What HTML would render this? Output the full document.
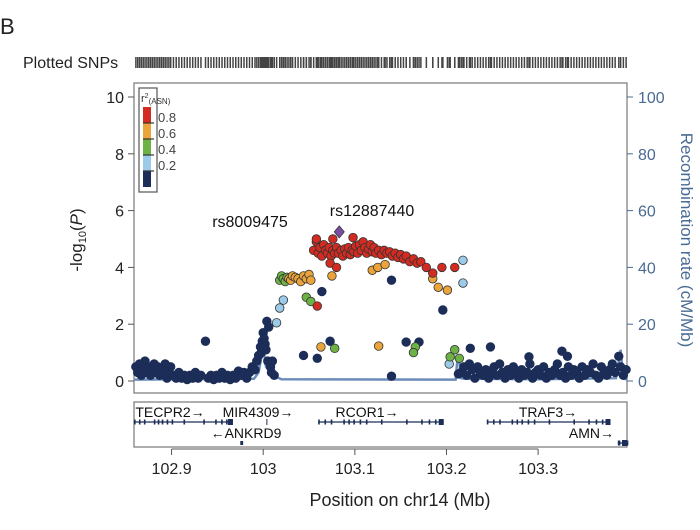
<!DOCTYPE html>
<html><head><meta charset="utf-8"><style>
html,body{margin:0;padding:0;background:#fff;}
svg{display:block;font-family:"Liberation Sans",Arial,sans-serif;}
</style></head><body>
<svg id="chart" width="700" height="530" viewBox="0 0 700 530">
<text x="0" y="34" font-size="22" fill="#222">B</text>
<text x="23" y="68" font-size="16" fill="#222">Plotted SNPs</text>
<g id="rug"></g>
<rect x="134" y="83" width="493" height="310" fill="none" stroke="#777" stroke-width="1.2"/>
<g id="recomb"></g>
<g id="points"></g>
<g id="yaxis"></g>
<g id="y2axis"></g>
<text transform="translate(82,240) rotate(-90)" text-anchor="middle" font-size="17" fill="#222">-log<tspan font-size="11" dy="4">10</tspan><tspan dy="-4">(</tspan><tspan font-style="italic">P</tspan>)</text>
<text transform="translate(681,240) rotate(90)" text-anchor="middle" font-size="17" fill="#4a6b94">Recombination rate (cM/Mb)</text>
<text x="250" y="227" text-anchor="middle" font-size="16" fill="#111">rs8009475</text>
<text x="372" y="216" text-anchor="middle" font-size="16" fill="#111">rs12887440</text>
<g>
<rect x="139" y="88" width="18" height="104" fill="#fff" stroke="#555" stroke-width="1.2"/>
<text x="141" y="102" font-size="11" fill="#333">r<tspan font-size="7" dy="-4">2</tspan><tspan font-size="8" dy="6">(ASN)</tspan></text>
<rect x="143" y="107" width="8" height="16" fill="#d22b22"/>
<rect x="143" y="123" width="8" height="16" fill="#eba43b"/>
<rect x="143" y="139" width="8" height="16" fill="#6cb245"/>
<rect x="143" y="155" width="8" height="16" fill="#9ccbe9"/>
<rect x="143" y="171" width="8" height="16" fill="#1c2d58"/>
<g stroke="#333" stroke-width="1.2"><line x1="143" y1="123" x2="154" y2="123"/><line x1="143" y1="139" x2="154" y2="139"/><line x1="143" y1="155" x2="154" y2="155"/><line x1="143" y1="171" x2="154" y2="171"/></g>
<g font-size="13" fill="#444"><text x="158" y="122">0.8</text><text x="158" y="138">0.6</text><text x="158" y="154">0.4</text><text x="158" y="170">0.2</text></g>
</g>
<rect x="134" y="402" width="493" height="45" fill="none" stroke="#777" stroke-width="1.2"/>
<g id="genes"></g>
<g id="xaxis"></g>
<text x="400" y="506" text-anchor="middle" font-size="18" fill="#222">Position on chr14 (Mb)</text>
</svg>
<script>
const xTicks=[102.9,103.0,103.1,103.2,103.3];
const xTickLabels=["102.9","103","103.1","103.2","103.3"];
const yTicks=[0,2,4,6,8,10];
const y2Ticks=[0,20,40,60,80,100];

const navyPos=[102.861,102.863,102.865,102.867,102.869,102.871,102.873,102.875,102.877,102.879,
102.881,102.883,102.885,102.887,102.889,102.891,102.893,102.895,102.897,102.899,
102.902,102.905,102.908,102.911,102.914,102.917,102.920,102.923,102.926,102.929,
102.932,102.937,102.940,102.943,102.946,102.949,102.952,102.955,102.958,102.961,
102.964,102.967,102.970,102.973,102.976,102.979,102.982,102.985,102.988,102.991,
102.993,102.995,102.997,102.998,102.999,103.000,103.001,103.002,103.003,103.004,
103.006,103.005,103.008,103.009,103.010,103.012,
103.064,103.140,103.196,103.073,103.044,103.059,103.156,103.170,103.140,103.213,
103.226,103.248,103.290,103.326,103.332,103.388,
103.216,103.219,103.222,103.225,103.228,103.231,103.234,103.237,103.240,103.243,
103.246,103.249,103.252,103.255,103.258,103.261,103.264,103.267,103.270,103.273,
103.276,103.279,103.282,103.285,103.288,103.291,103.294,103.297,103.300,103.303,
103.306,103.309,103.312,103.315,103.318,103.321,103.324,103.327,103.330,103.333,
103.336,103.339,103.342,103.345,103.348,103.351,103.354,103.357,103.360,103.363,
103.366,103.369,103.372,103.375,103.378,103.381,103.384,103.390,103.393,103.396];
const navyLogP=[0.5,0.3,0.6,0.2,0.4,0.7,0.3,0.5,0.2,0.4,
0.6,0.3,0.5,0.2,0.4,0.3,0.6,0.1,0.3,0.5,
0.2,0.1,0.3,0.1,0.2,0.05,0.2,0.1,0.3,0.1,
0.2,1.4,0.1,0.2,0.05,0.2,0.1,0.3,0.1,0.2,
0.05,0.2,0.1,0.35,0.2,0.3,0.1,0.3,0.5,0.4,
0.7,0.9,1.2,1.0,1.4,1.7,1.5,1.3,1.1,2.1,
1.9,0.7,0.5,0.3,0.7,0.2,
3.15,3.55,2.5,1.4,0.9,0.8,1.37,1.37,0.17,0.25,
1.15,1.2,0.85,1.05,0.87,0.87,
0.3,0.5,0.2,0.6,0.4,0.1,0.5,0.3,0.2,0.4,
0.1,0.3,0.5,0.2,0.6,0.3,0.1,0.4,0.2,0.5,
0.3,0.1,0.4,0.2,0.3,0.6,0.1,0.3,0.4,0.2,
0.5,0.1,0.3,0.2,0.4,0.6,0.2,0.3,0.1,0.5,
0.2,0.4,0.3,0.1,0.5,0.2,0.4,0.3,0.6,0.2,
0.1,0.5,0.3,0.2,0.4,0.6,0.3,0.5,0.2,0.4];
const lightBluePos=[103.0146,103.018,103.022,103.218,103.218,103.203];
const lightBlueLogP=[2.05,2.57,2.85,4.25,3.45,0.6];
const greenPos=[103.018,103.020,103.022,103.024,103.026,103.047,103.052,103.078,103.166,103.164,103.209,103.204,103.214];
const greenLogP=[3.55,3.7,3.6,3.5,3.65,2.95,2.8,1.15,1.2,1.0,1.1,0.85,0.8];
const orangePos=[103.028,103.030,103.032,103.035,103.038,103.041,103.044,103.047,103.050,103.052,
103.075,103.119,103.125,103.133,103.185,103.191,103.201,103.063,103.126];
const orangeLogP=[3.6,3.55,3.7,3.65,3.6,3.5,3.7,3.6,3.75,3.55,
3.7,3.9,4.0,4.1,3.6,3.3,3.2,1.2,1.23];
const redPos=[103.055,103.058,103.060,103.062,103.064,103.066,103.068,103.070,103.072,103.074,
103.076,103.078,103.080,103.082,103.085,103.087,103.089,103.091,103.093,103.095,
103.097,103.099,103.101,103.103,103.105,103.107,103.109,103.111,103.113,103.115,
103.117,103.119,103.121,103.123,103.126,103.129,103.132,103.135,103.138,103.141,
103.144,103.147,103.150,103.153,103.156,103.160,103.164,103.168,103.172,103.058,
103.076,103.098,103.073,103.080,103.059,103.178,103.185,103.195,103.209];
const redLogP=[4.6,4.9,4.5,4.7,4.4,4.8,4.6,4.5,4.7,4.4,
4.6,4.5,4.7,4.5,4.6,4.4,4.65,4.5,4.7,4.45,
4.6,4.55,4.75,4.5,4.8,4.6,4.9,4.7,4.5,4.65,
4.8,4.55,4.7,4.5,4.6,4.45,4.6,4.5,4.55,4.4,
4.5,4.35,4.45,4.3,4.4,4.2,4.3,4.15,4.2,5.0,
5.0,5.05,4.15,4.0,2.64,4.0,3.8,4.0,4.0];
const leadPos=[103.083];
const leadLogP=[5.25];

const recPos=[102.859,102.990,102.995,103.000,103.003,103.010,103.020,103.210,103.212,103.214,103.216,103.220,103.300,103.385,103.390,103.393,103.397];
const recRate=[0.5,0.8,3,12,5,2,0.6,0.5,8,7,1,0.8,0.6,1,11,1,0.5];
const geneNames=["TECPR2","MIR4309","RCOR1","TRAF3","ANKRD9","AMN"];
const geneStart=[102.859,103.004,103.060,103.244,102.975,103.387];
const geneEnd=[102.967,103.005,103.197,103.379,102.977,103.397];
const geneRow=[0,0,0,0,1,1];
const geneStrand=[1,1,1,1,-1,1];

const NS='http://www.w3.org/2000/svg';
const X0=134,X1=627,D0=102.859,D1=103.397;
function xs(v){return X0+(v-D0)/(D1-D0)*(X1-X0);}
function ys(v){return 381-v*28.4;}
function y2s(v){return 381-v*2.84;}
function mk(tag,attrs,parent){const e=document.createElementNS(NS,tag);for(const k in attrs)e.setAttribute(k,attrs[k]);parent.appendChild(e);return e;}

const groups=[
  {pos:navyPos,p:navyLogP,fill:"#1c2d58",stroke:"#1c2d58"},
  {pos:lightBluePos,p:lightBlueLogP,fill:"#9ccbe9",stroke:"#333"},
  {pos:greenPos,p:greenLogP,fill:"#6cb245",stroke:"#333"},
  {pos:orangePos,p:orangeLogP,fill:"#eba43b",stroke:"#333"},
  {pos:redPos,p:redLogP,fill:"#d22b22",stroke:"#333"}
];

// rug
const rug=document.getElementById('rug');
const allPos=[].concat(navyPos,lightBluePos,greenPos,orangePos,redPos,leadPos);
for(let i=0;i<allPos.length;i++){
  const r=mk('rect',{x:xs(allPos[i])-0.7,y:57,width:1.5,height:11,fill:'#444'},rug);
  
  
}
// recombination
const rg=document.getElementById('recomb');
let d='';for(let i=0;i<recPos.length;i++){d+=(i?'L':'M')+xs(recPos[i]).toFixed(1)+','+y2s(recRate[i]).toFixed(1);}
const rp=mk('path',{d:d,fill:'none',stroke:'#6b8cba',"stroke-width":2.5},rg);


// points
const pg=document.getElementById('points');
groups.forEach(g=>{
  for(let i=0;i<g.pos.length;i++){
    const c=mk('circle',{cx:xs(g.pos[i]),cy:ys(g.p[i]),r:4.3,fill:g.fill,stroke:g.stroke,"stroke-width":0.8},pg);
    
    
  }
});
for(let i=0;i<leadPos.length;i++){
  const cx=xs(leadPos[i]),cy=ys(leadLogP[i]);
  const p=mk('path',{d:`M${cx},${cy-6}L${cx+5},${cy}L${cx},${cy+6}L${cx-5},${cy}Z`,fill:'#7a4fa3',stroke:'#333',"stroke-width":0.8},pg);
  
  
}
// y axis
const ya=document.getElementById('yaxis');
for(const t of yTicks){
  mk('line',{x1:128,x2:134,y1:ys(t),y2:ys(t),stroke:'#555'},ya);
  const tx=mk('text',{x:124,y:ys(t)+6,"text-anchor":"end","font-size":16,fill:'#222'},ya);
  tx.textContent=t;
  
  
}
const y2=document.getElementById('y2axis');
for(const t of y2Ticks){
  mk('line',{x1:627,x2:633,y1:y2s(t),y2:y2s(t),stroke:'#4a6b94'},y2);
  const tx=mk('text',{x:638,y:y2s(t)+6,"font-size":16,fill:'#4a6b94'},y2);
  tx.textContent=t;
  
  
}
// x axis
const xa=document.getElementById('xaxis');
mk('line',{x1:xs(xTicks[0]),x2:xs(xTicks[4]),y1:449,y2:449,stroke:'#555'},xa);
xTicks.forEach((t,i)=>{
  mk('line',{x1:xs(t),x2:xs(t),y1:449,y2:455,stroke:'#555'},xa);
  const tx=mk('text',{x:xs(t),y:474,"text-anchor":"middle","font-size":16,fill:'#222'},xa);
  tx.textContent=xTickLabels[i];
  
  
});
// genes
const gg=document.getElementById('genes');
geneNames.forEach((n,i)=>{
  const ly=geneRow[i]?443:422;
  const a=xs(geneStart[i]),b=xs(geneEnd[i]);
  const g=mk('g',{},gg);
  
  
  if(n==="ANKRD9"){mk('rect',{x:a,y:ly-2,width:b-a+1,height:4,fill:'#1c2d58'},g);}
  else if(n==="MIR4309"){mk('line',{x1:a,x2:a,y1:ly-3,y2:ly+3,stroke:'#1c2d58'},g);}
  else{
    mk('line',{x1:a,x2:b,y1:ly,y2:ly,stroke:'#1c2d58',"stroke-width":1.3},g);
    const w=b-a;
    [0,0.05,0.1,0.2,0.24,0.28,0.33,0.38,0.5,0.7,0.82,0.88,0.93,0.97].forEach(f=>{if(n==="AMN"&&f>0.1&&f<0.9)return;mk('rect',{x:a+f*w,y:ly-2.5,width:1.6,height:5,fill:'#1c2d58'},g);});
    mk('rect',{x:b-5,y:ly-3,width:5,height:6,fill:'#1c2d58'},g);
  }
  let lx, anchor='middle';
  if(n==="TECPR2"){lx=170;} else if(n==="MIR4309"){lx=258;} else if(n==="RCOR1"){lx=367;} else if(n==="TRAF3"){lx=548;}
  else if(n==="ANKRD9"){lx=246;} else {lx=614;anchor='end';}
  const label=geneStrand[i]>0?n+'\u2192':'\u2190'+n;
  const tx=mk('text',{x:lx,y:ly-5,"text-anchor":anchor,"font-size":14,fill:'#111'},g);
  tx.textContent=label;
});
</script>
</body></html>
